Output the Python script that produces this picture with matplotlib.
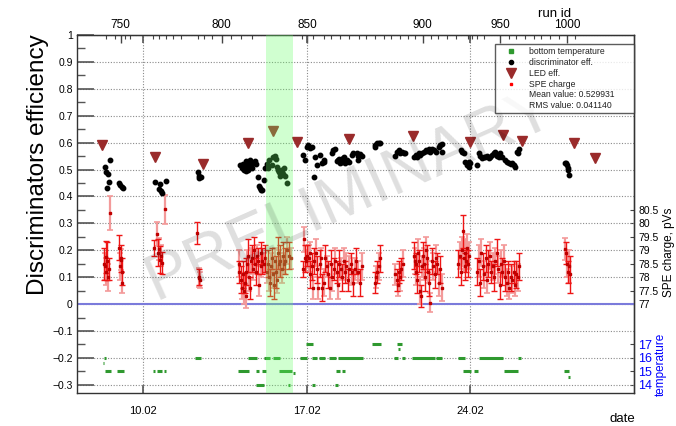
import numpy as np
import matplotlib
matplotlib.use("Agg")
import matplotlib.pyplot as plt
from matplotlib.lines import Line2D
from matplotlib.ticker import FixedLocator, FuncFormatter

plt.rcParams['font.family'] = ['Liberation Sans', 'DejaVu Sans']

# ── data (x = day of February) ────────────────────────────────────────────────
disc_day = [8.36, 8.42, 8.45, 8.49, 8.53, 8.59, 8.97, 9.02, 9.08, 9.13,
            10.50, 10.66, 10.70, 10.76, 10.82, 10.97,
            12.33, 12.38, 12.40, 12.47,
            14.15, 14.22, 14.28, 14.33, 14.40, 14.40, 14.45, 14.50, 14.50, 14.55, 14.60,
            14.65, 14.70, 14.78, 14.82, 14.93, 14.97, 15.00, 15.02, 15.07, 15.15, 15.22,
            15.30, 15.33, 15.40, 15.52, 15.55, 15.62, 15.68, 15.73, 15.78, 15.82, 15.85,
            15.88, 15.90, 15.95, 16.00, 16.02, 16.08, 16.15,
            16.86, 16.93, 17.00, 17.07, 17.14, 17.22, 17.33, 17.36, 17.43, 17.57, 17.65,
            17.72, 17.76, 18.07, 18.14, 18.22, 18.30, 18.36, 18.40, 18.43, 18.50, 18.55,
            18.57, 18.60, 18.64, 18.72, 18.79, 18.93, 19.00, 19.14, 19.19, 19.21, 19.29, 19.36,
            19.92, 19.94, 20.01, 20.09, 20.16,
            20.80, 20.87, 20.94, 21.01, 21.09, 21.16, 21.23,
            21.59, 21.66, 21.73, 21.80, 21.87, 21.94, 22.02, 22.09, 22.16, 22.23, 22.30,
            22.37, 22.45, 22.52, 22.66, 22.73, 22.80, 22.80,
            23.59, 23.66, 23.73, 23.80, 23.87, 23.94, 23.97, 24.01,
            24.30, 24.37, 24.44, 24.51, 24.58, 24.65, 24.73, 24.80, 24.87, 24.94, 25.01,
            25.08, 25.16, 25.23, 25.30, 25.37, 25.51, 25.59, 25.66, 25.73, 25.80, 25.87,
            25.94, 26.01, 26.06, 26.08,
            28.07, 28.10, 28.14, 28.18, 28.21, 28.24]
disc_eff = [0.508, 0.489, 0.431, 0.482, 0.452, 0.536, 0.450, 0.443, 0.436, 0.431,
            0.454, 0.428, 0.446, 0.420, 0.414, 0.457,
            0.490, 0.470, 0.475, 0.473,
            0.515, 0.505, 0.520, 0.500, 0.530, 0.495, 0.510, 0.525, 0.500, 0.535, 0.515,
            0.505, 0.525, 0.530, 0.520, 0.473, 0.440, 0.430, 0.425, 0.423, 0.462, 0.505,
            0.520, 0.505, 0.535, 0.515, 0.545, 0.550, 0.540, 0.510, 0.500, 0.490, 0.475,
            0.485, 0.500, 0.490, 0.485, 0.505, 0.475, 0.450,
            0.553, 0.535, 0.584, 0.591, 0.580, 0.584, 0.473, 0.547, 0.516, 0.553, 0.523,
            0.529, 0.535, 0.560, 0.572, 0.578, 0.530, 0.535, 0.540, 0.525, 0.529, 0.530,
            0.541, 0.545, 0.523, 0.535, 0.529, 0.553, 0.560, 0.560, 0.537, 0.550, 0.557, 0.550,
            0.584, 0.591, 0.597, 0.599, 0.597,
            0.550, 0.566, 0.572, 0.560, 0.566, 0.560, 0.562,
            0.547, 0.553, 0.545, 0.560, 0.553, 0.560, 0.566, 0.572, 0.569, 0.578, 0.566,
            0.578, 0.572, 0.566, 0.584, 0.591, 0.594, 0.566,
            0.572, 0.566, 0.560, 0.529, 0.516, 0.510, 0.529, 0.523,
            0.516, 0.560, 0.550, 0.541, 0.547, 0.545, 0.550, 0.541, 0.547, 0.553, 0.560,
            0.566, 0.550, 0.547, 0.560, 0.547, 0.535, 0.529, 0.525, 0.520, 0.523, 0.516,
            0.510, 0.566, 0.560, 0.578,
            0.523, 0.525, 0.516, 0.498, 0.504, 0.479]

led_day = [8.23, 10.52, 12.55, 14.50, 15.57, 16.60, 18.82, 21.56, 24.01, 25.40, 26.21, 28.47, 29.36]
led_eff = [0.590, 0.545, 0.520, 0.600, 0.643, 0.604, 0.612, 0.624, 0.603, 0.628, 0.607, 0.597, 0.541]

spe_day = [8.30, 8.35, 8.38, 8.42, 8.45, 8.50, 8.55, 8.58,
           8.95, 9.00, 9.03, 9.06, 9.08, 9.10,
           10.47, 10.60, 10.62, 10.67, 10.70, 10.74, 10.78, 10.95,
           12.30, 12.37, 12.40, 12.42,
           14.08, 14.12, 14.18, 14.22, 14.27, 14.30, 14.34, 14.38, 14.42, 14.46, 14.50,
           14.54, 14.58, 14.62, 14.66, 14.70, 14.74, 14.78, 14.83, 14.88, 14.93, 14.97,
           15.02, 15.06, 15.10, 15.15, 15.20,
           15.28, 15.33, 15.37, 15.42, 15.47, 15.52, 15.56, 15.60, 15.65, 15.70, 15.74,
           15.78, 15.83, 15.87, 15.92, 15.97, 16.02, 16.08, 16.14, 16.22, 16.32,
           16.82, 16.88, 16.93, 16.98, 17.03, 17.08, 17.12, 17.16, 17.22, 17.28, 17.33,
           17.38, 17.44, 17.50, 17.56, 17.62, 17.66, 17.72, 17.78, 17.85, 17.92, 17.98,
           18.04, 18.10, 18.16, 18.22, 18.28, 18.34, 18.40, 18.46, 18.52, 18.58, 18.64,
           18.70, 18.76, 18.82, 18.88, 18.94, 19.00, 19.06, 19.12, 19.20, 19.28, 19.36,
           19.92, 19.97, 20.02, 20.08, 20.14,
           20.80, 20.85, 20.90, 20.95, 21.00, 21.05, 21.12,
           21.58, 21.62, 21.66, 21.70, 21.74, 21.78, 21.82, 21.86, 21.90, 21.94, 21.98,
           22.02, 22.06, 22.10, 22.14, 22.18, 22.22, 22.30, 22.36, 22.42, 22.48, 22.54,
           22.60, 22.66, 22.72, 22.78,
           23.50, 23.55, 23.60, 23.64, 23.68, 23.72, 23.76, 23.80, 23.84, 23.88, 23.92, 23.97,
           24.30, 24.36, 24.42, 24.48, 24.54, 24.60, 24.66, 24.72, 24.78, 24.84, 24.90,
           24.96, 25.02, 25.08, 25.14, 25.20, 25.26, 25.32, 25.38, 25.44, 25.50, 25.56,
           25.62, 25.68, 25.74, 25.80, 25.86, 25.92, 25.98, 26.04, 26.10,
           28.06, 28.10, 28.14, 28.18, 28.22, 28.26]
spe_charge = [78.5, 78.4, 78.75, 78.2, 78.6, 78.0, 78.3, 80.39,
              79.1, 78.4, 78.7, 78.65, 78.2, 77.8,
              79.07, 79.6, 78.9, 79.05, 78.65, 78.8, 78.53, 80.52,
              79.65, 77.98, 78.0, 77.9,
              78.2, 78.5, 77.9, 77.6, 78.1, 77.5, 77.8, 77.3, 78.2, 78.5, 78.8,
              78.0, 77.6, 78.6, 78.7, 78.3, 79.0, 78.5, 78.2, 78.8, 78.6, 77.7,
              78.9, 78.4, 78.6, 78.5, 78.7,
              78.2, 78.5, 78.0, 77.8, 78.4, 78.7, 78.1, 77.7, 78.6, 78.2, 77.9,
              78.9, 78.5, 78.6, 78.3, 78.8, 78.5, 78.6, 79.0, 78.8, 78.7,
              78.3, 79.4, 78.7, 78.6, 78.8, 78.7, 78.1, 78.9, 78.4, 77.6, 78.6,
              78.9, 78.3, 77.6, 78.5, 78.7, 77.6, 77.8, 78.7, 78.4, 78.1, 77.6,
              78.5, 78.0, 78.3, 78.6, 78.2, 77.7, 78.5, 78.3, 78.0, 78.6, 78.2,
              78.4, 77.9, 78.3, 78.5, 78.2, 77.8, 78.3, 78.6, 78.2, 77.8, 78.4,
              77.8, 78.0, 78.2, 78.4, 78.7,
              78.1, 77.9, 77.7, 78.2, 78.0, 78.3, 78.5,
              78.8, 78.6, 78.5, 78.2, 77.9, 78.9, 78.6, 77.5, 77.3, 78.4, 78.8,
              78.5, 78.0, 79.0, 78.7, 78.2, 77.8, 77.05, 78.6, 78.4, 78.1, 78.7,
              78.5, 77.8, 78.3, 77.6,
              78.5, 78.8, 78.2, 79.0, 79.7, 78.7, 78.4, 78.9, 78.6, 79.1, 78.5, 78.8,
              78.2, 78.6, 77.8, 78.9, 78.4, 78.1, 78.7, 77.9, 78.5, 78.8, 78.2,
              78.4, 78.0, 78.6, 78.9, 78.3, 77.7, 78.5, 78.2, 78.6, 78.0, 77.8,
              78.2, 77.6, 78.0, 77.9, 78.2, 77.7, 78.1, 78.0, 78.4,
              79.05, 78.9, 78.5, 78.2, 78.4, 78.1]
spe_err = [0.6, 0.5, 0.6, 0.5, 0.7, 0.5, 0.4, 0.62,
           0.45, 0.5, 0.5, 0.4, 0.5, 0.4,
           0.3, 0.45, 0.5, 0.4, 0.5, 0.4, 0.4, 0.55,
           0.4, 0.35, 0.3, 0.3,
           0.4, 0.5, 0.5, 0.4, 0.5, 0.5, 0.4, 0.45, 0.5, 0.5, 0.6,
           0.5, 0.4, 0.5, 0.5, 0.4, 0.5, 0.4, 0.5, 0.4, 0.5, 0.4,
           0.4, 0.4, 0.5, 0.4, 0.5,
           0.4, 0.5, 0.5, 0.5, 0.5, 0.4, 0.5, 0.5, 0.5, 0.6, 0.5,
           0.6, 0.5, 0.6, 0.5, 0.5, 0.4, 0.5, 0.5, 0.5, 0.4,
           0.3, 0.45, 0.5, 0.4, 0.4, 0.5, 0.5, 0.4, 0.5, 0.4, 0.5,
           0.5, 0.5, 0.4, 0.5, 0.4, 0.5, 0.5, 0.5, 0.4, 0.5, 0.4,
           0.5, 0.5, 0.4, 0.5, 0.4, 0.5, 0.5, 0.4, 0.5, 0.5, 0.4,
           0.5, 0.4, 0.5, 0.4, 0.5, 0.5, 0.4, 0.5, 0.4, 0.5, 0.5,
           0.4, 0.4, 0.4, 0.5, 0.5,
           0.4, 0.4, 0.4, 0.4, 0.5, 0.4, 0.5,
           0.5, 0.5, 0.4, 0.5, 0.5, 0.5, 0.4, 0.5, 0.4, 0.4, 0.5,
           0.6, 0.5, 0.5, 0.5, 0.4, 0.5, 0.35, 0.5, 0.5, 0.5, 0.5,
           0.4, 0.5, 0.5, 0.5,
           0.5, 0.5, 0.5, 0.5, 0.6, 0.5, 0.5, 0.5, 0.4, 0.5, 0.5, 0.5,
           0.5, 0.6, 0.5, 0.5, 0.5, 0.5, 0.5, 0.5, 0.5, 0.5, 0.4,
           0.5, 0.5, 0.5, 0.5, 0.5, 0.5, 0.5, 0.5, 0.6, 0.5, 0.5,
           0.4, 0.4, 0.5, 0.5, 0.4, 0.4, 0.5, 0.5, 0.5,
           0.4, 0.4, 0.5, 0.4, 0.6, 0.7]

# bottom temperature: runs of constant reading (start day, end day, deg C)
temp_start = [8.27, 8.30, 12.23, 14.49, 15.16, 15.55, 16.70, 17.23, 17.52, 17.94, 18.34,
              20.76, 21.07, 21.53, 22.54, 23.46, 24.36, 26.03,
              16.99, 19.81, 20.86, 20.93,
              8.35, 8.87, 10.40, 10.59, 10.88, 14.05, 14.83, 15.09, 15.80, 18.27, 18.49,
              23.69, 24.18, 25.46, 28.00,
              16.43, 28.20,
              14.84, 16.19, 17.24, 18.23]
temp_end = [8.33, 8.42, 12.48, 14.87, 15.44, 15.87, 17.02, 17.42, 17.77, 18.27, 19.40,
            20.93, 21.21, 22.50, 22.81, 23.79, 25.40, 26.19,
            17.27, 20.18, 21.10, 21.00,
            8.62, 9.16, 10.52, 10.80, 10.99, 14.52, 14.95, 15.25, 16.37, 18.42, 18.62,
            24.03, 24.33, 26.07, 28.24,
            16.49, 28.26,
            15.16, 16.27, 17.34, 18.33]
temp_val = [15.65, 16, 16, 16, 16, 16, 16, 16, 16, 16, 16,
            16, 16, 16, 16, 16, 16, 16,
            17, 17, 17, 16.65,
            15, 15, 15, 15, 15, 15, 15, 15, 15, 15, 15,
            15, 15, 15, 15,
            14.85, 14.6,
            14, 14, 14, 14]

date_ticks = [10, 17, 24]
date_labels = ["10.02", "17.02", "24.02"]

run_ids = [750, 800, 850, 900, 950, 1000]
run_days = [9.03, 13.35, 17.03, 21.97, 25.29, 28.15]
run_minor_days = [8.38, 8.77, 9.22, 9.43, 10.40, 10.68, 10.99, 11.26, 11.60, 12.33,
                  12.59, 12.94, 13.74, 14.17, 14.66, 16.80, 17.26, 17.72, 18.06, 18.41,
                  18.79, 19.25, 19.55, 19.94, 20.29, 20.63, 21.01, 21.32, 21.62, 22.31,
                  22.61, 23.00, 23.38, 23.91, 23.99, 24.07, 24.30, 24.60, 25.67, 25.98,
                  26.36, 26.74, 27.05, 27.43, 27.81, 28.50]

band = (15.25, 16.41)
mean_txt = "Mean value: 0.529931"
rms_txt = "RMS value: 0.041140"


# charge and temperature share the efficiency axis through linear maps
def q_to_eff(q):
    return (np.asarray(q) - 77.0) * 0.1


def eff_to_q(e):
    return np.asarray(e) * 10.0 + 77.0


def t_to_eff(t):
    return (np.asarray(t) - 20.0) * 0.05


def eff_to_t(e):
    return np.asarray(e) * 20.0 + 20.0


# ── figure ────────────────────────────────────────────────────────────────────
fig = plt.figure(figsize=(6.76, 4.26), dpi=100)
ax = fig.add_axes([77 / 676, 1 - 393 / 426, 557 / 676, 358 / 426])
ax.set_xlim(7.159, 31.02)
ax.set_ylim(-0.3306, 1.0)

GREEN = "#2f992f"
LED = "#9a2b2b"

ax.hlines(t_to_eff(temp_val), temp_start, temp_end, color=GREEN, lw=2.2, zorder=3)

ax.axhline(0, color="#7b7bdb", lw=1.5, zorder=2)

d = np.array(spe_day)
q = q_to_eff(spe_charge)
e = np.array(spe_err) * 0.1
ax.errorbar(d[1::2], q[1::2], yerr=e[1::2], fmt="none", ecolor="#f39a9a",
            elinewidth=1.6, capsize=2, capthick=1.2, zorder=3)
ax.errorbar(d[::2], q[::2], yerr=e[::2], fmt="none", ecolor="#ee1515",
            elinewidth=1.0, capsize=2, capthick=1.0, zorder=3)
ax.plot(d, q, ls="none", marker="s", ms=1.8, color="#c00000", zorder=4)

ax.plot(disc_day, disc_eff, ls="none", marker="o", ms=3.2, color="black", zorder=4)
ax.plot(led_day, led_eff, ls="none", marker="v", ms=6.5, color=LED, zorder=4)

ax.axvspan(*band, color="#66ff66", alpha=0.3, lw=0, zorder=5)

ax.text(0.49, 0.555, "PRELIMINARY", transform=ax.transAxes, rotation=24,
        fontsize=47, color="black", alpha=0.13, ha="center", va="center", zorder=6)

# ── axes and ticks ────────────────────────────────────────────────────────────
for s in ax.spines.values():
    s.set_color("#333333")
    s.set_linewidth(1.0)

ax.yaxis.set_major_locator(FixedLocator(np.round(np.arange(-0.3, 1.01, 0.1), 2)))
ax.yaxis.set_minor_locator(FixedLocator(np.round(np.arange(-0.3, 1.01, 0.05), 3)))
ax.yaxis.set_major_formatter(FuncFormatter(lambda v, p: f"{v:g}".replace("-", "\u2212")))
ax.tick_params(axis="y", which="major", direction="in", length=12, width=1.2,
               color="#555555", labelsize=7.5, pad=3)
ax.tick_params(axis="y", which="minor", direction="in", length=6, width=1.0,
               color="#555555")

ax.set_xticks(date_ticks, date_labels)
ax.tick_params(axis="x", which="major", direction="in", length=6, width=1.2,
               color="#555555", labelsize=8, pad=9, top=True)

ax.grid(True, which="major", color="#8a8a8a", ls=(0, (1, 1.5)), lw=0.8)
ax.set_axisbelow(True)

top = ax.secondary_xaxis("top", functions=(lambda x: x, lambda x: x))
top.set_xticks(run_days, [str(r) for r in run_ids])
top.set_xticks(run_minor_days, minor=True)
top.tick_params(which="major", direction="in", length=6, width=1.0, color="#444444",
                labelsize=8.5, pad=3)
top.tick_params(which="minor", direction="in", length=3, width=0.8, color="#444444")

spe_ax = ax.secondary_yaxis("right", functions=(eff_to_q, q_to_eff))
spe_ax.set_yticks(np.arange(77, 80.51, 0.5))
spe_ax.yaxis.set_major_formatter(FuncFormatter(lambda v, p: f"{v:g}"))
spe_ax.tick_params(direction="in", length=3, width=0.8, color="#444444",
                   labelsize=7.5, pad=3)

temp_ax = ax.secondary_yaxis("right", functions=(eff_to_t, t_to_eff))
temp_ax.set_yticks([14, 15, 16, 17])
temp_ax.tick_params(direction="in", length=3, width=0.8, color="#444444",
                    labelsize=9, labelcolor="blue", pad=3)

# ── legend ────────────────────────────────────────────────────────────────────
handles = [
    Line2D([], [], ls="none", marker="s", ms=2.5, color=GREEN),
    Line2D([], [], ls="none", marker="o", ms=3, color="black"),
    Line2D([], [], ls="none", marker="v", ms=7, color=LED),
    Line2D([], [], ls="none", marker="s", ms=1.5, color="red"),
    Line2D([], [], ls="none"),
    Line2D([], [], ls="none"),
]
labels = ["bottom temperature", "discriminator eff.", "LED eff.", "SPE charge",
          mean_txt, rms_txt]
leg = ax.legend(handles, labels, loc="upper left",
                bbox_to_anchor=(0.7505, 0.80, 0.2495, 0.1749), mode="expand",
                fontsize=6.2, frameon=True, fancybox=False, borderaxespad=0,
                handlelength=3.0, handletextpad=0.6, labelspacing=0.2,
                borderpad=0.4)
leg.get_frame().set_edgecolor("#333333")
leg.get_frame().set_linewidth(1.0)
leg.set_zorder(7)
for t in leg.get_texts():
    t.set_color("#222222")

# ── axis titles ───────────────────────────────────────────────────────────────
fig.text(38 / 676, 1 - 165 / 426, "Discriminators efficiency", rotation=90,
         fontsize=17.5, ha="center", va="center")
fig.text(669 / 676, 1 - 252 / 426, "SPE charge, pVs", rotation=90,
         fontsize=8.5, ha="center", va="center")
fig.text(661 / 676, 1 - 364 / 426, "temperature", rotation=90, color="blue",
         fontsize=8.5, ha="center", va="center")
fig.text(555 / 676, 1 - 14 / 426, "run id", fontsize=9.5, ha="center", va="center")
fig.text(622 / 676, 1 - 419 / 426, "date", fontsize=9.5, ha="center", va="center")

fig.savefig("out.png", dpi=100)
